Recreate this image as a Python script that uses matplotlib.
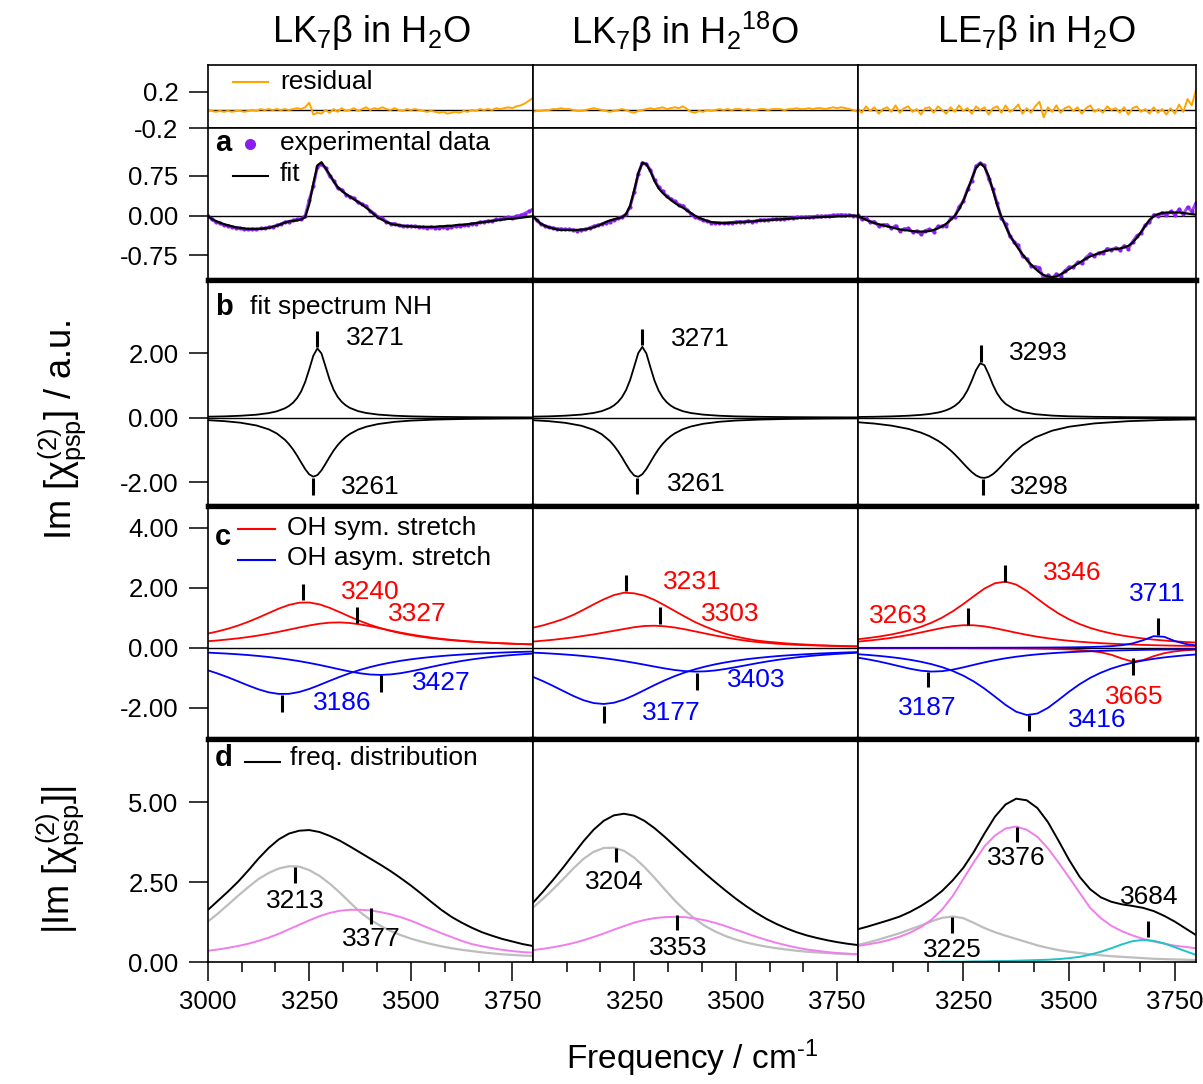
import numpy as np
import matplotlib
matplotlib.use("Agg")
from matplotlib import pyplot as plt
from matplotlib.lines import Line2D

plt.rcParams['font.family'] = ['Liberation Sans', 'DejaVu Sans']
plt.rcParams['mathtext.fontset'] = 'custom'
plt.rcParams['mathtext.rm'] = 'Liberation Sans'
plt.rcParams['mathtext.it'] = 'Liberation Sans'
plt.rcParams['mathtext.bf'] = 'Liberation Sans:bold'


# !Column titles
titles = [r'LK$_7$β in H$_2$O', r'LK$_7$β in H$_2$$^{18}$O', r'LE$_7$β in H$_2$O']

# !Frequency grids (cm-1) the curves were read on
freq_a = np.arange(3000, 3801, 10)
freq_b = [3000, 3040, 3080, 3120, 3150, 3170, 3190, 3200, 3210, 3220, 3230, 3240,
          3250, 3260, 3270, 3280, 3290, 3300, 3310, 3320, 3330, 3340, 3350, 3370,
          3390, 3420, 3460, 3500, 3560, 3640, 3720, 3800]
freq_cd = np.arange(3000, 3801, 25)


# !Residuals (top strip)
resid_lk = [0.00, -0.01, -0.02, -0.01, -0.02, -0.01, -0.02, -0.01, -0.01, -0.02,
            -0.01, 0.00, -0.01, 0.01, 0.00, 0.01, 0.00, 0.01, 0.00, 0.01,
            0.00, 0.01, 0.02, 0.01, 0.03, 0.08, -0.05, -0.03, -0.04, 0.00,
            -0.03, 0.01, -0.02, 0.02, -0.01, 0.00, 0.02, -0.01, 0.01, 0.03,
            0.00, 0.02, 0.01, 0.03, 0.01, 0.00, 0.02, 0.00, -0.01, 0.01,
            0.00, 0.01, 0.00, -0.01, -0.02, -0.01, -0.02, -0.03, -0.02, -0.04,
            -0.03, -0.02, -0.03, -0.01, -0.02, 0.00, -0.01, 0.01, 0.00, 0.01,
            0.00, 0.02, 0.01, 0.02, 0.03, 0.02, 0.04, 0.05, 0.07, 0.10,
            0.13]
resid_lk18 = [-0.02, -0.01, -0.01, 0.00, 0.00, 0.01, 0.01, 0.02, 0.01, 0.01,
              0.00, -0.01, -0.01, 0.00, 0.01, 0.02, 0.01, 0.00, -0.01, -0.02,
              -0.01, 0.00, 0.01, 0.00, -0.02, -0.03, -0.01, 0.00, 0.01, 0.02,
              0.01, 0.02, 0.03, 0.01, 0.02, 0.03, 0.02, 0.04, 0.01, -0.02,
              -0.03, -0.01, -0.02, 0.00, -0.01, 0.00, 0.01, 0.00, 0.01, 0.00,
              0.01, 0.01, 0.00, 0.01, 0.00, 0.00, 0.01, 0.01, 0.00, 0.01,
              0.01, 0.01, 0.00, 0.01, 0.01, 0.02, 0.01, 0.01, 0.02, 0.01,
              0.02, 0.02, 0.01, 0.02, 0.03, 0.02, 0.03, 0.02, 0.01, 0.00,
              -0.02]
resid_le = [0.02, -0.03, 0.04, -0.01, 0.03, -0.04, 0.01, 0.03, -0.02, 0.05,
            -0.03, 0.02, 0.04, -0.02, 0.01, -0.05, 0.02, 0.03, -0.03, 0.04,
            0.00, -0.04, 0.03, -0.02, 0.05, -0.01, 0.02, -0.04, 0.04, 0.00,
            0.03, -0.05, 0.02, 0.04, -0.03, 0.05, -0.02, 0.01, 0.06, -0.04,
            0.02, -0.03, 0.04, 0.09, -0.08, 0.03, -0.02, 0.05, -0.03, 0.02,
            0.04, -0.01, 0.03, -0.04, 0.02, 0.05, -0.02, 0.01, -0.03, 0.04,
            0.00, 0.02, -0.03, 0.03, -0.05, 0.02, 0.04, -0.02, 0.01, -0.04,
            0.03, -0.03, 0.01, -0.05, 0.02, -0.04, 0.06, -0.02, 0.12, 0.05,
            0.22]

# !Panel a: fit (experimental data = fit + residual)
fit_lk = [0.00, -0.06, -0.10, -0.13, -0.16, -0.18, -0.20, -0.22, -0.23, -0.24,
          -0.25, -0.25, -0.25, -0.25, -0.24, -0.23, -0.21, -0.19, -0.16, -0.13,
          -0.11, -0.10, -0.09, -0.07, -0.03, 0.22, 0.61, 0.95, 1.01, 0.90,
          0.78, 0.65, 0.54, 0.47, 0.41, 0.36, 0.31, 0.26, 0.21, 0.15,
          0.09, 0.02, -0.04, -0.08, -0.12, -0.15, -0.17, -0.18, -0.19, -0.20,
          -0.20, -0.21, -0.21, -0.21, -0.21, -0.21, -0.21, -0.20, -0.20, -0.19,
          -0.19, -0.18, -0.17, -0.17, -0.16, -0.15, -0.14, -0.13, -0.12, -0.11,
          -0.10, -0.09, -0.08, -0.07, -0.06, -0.06, -0.05, -0.04, -0.03, -0.02,
          -0.01]
fit_lk18 = [0.00, -0.08, -0.15, -0.19, -0.22, -0.24, -0.26, -0.27, -0.27, -0.27,
            -0.27, -0.27, -0.26, -0.26, -0.24, -0.22, -0.19, -0.16, -0.12, -0.09,
            -0.07, -0.05, -0.03, 0.03, 0.19, 0.48, 0.80, 1.00, 0.97, 0.84,
            0.66, 0.52, 0.43, 0.36, 0.30, 0.24, 0.19, 0.15, 0.10, 0.05,
            0.00, -0.04, -0.07, -0.10, -0.12, -0.13, -0.14, -0.14, -0.14, -0.13,
            -0.13, -0.12, -0.12, -0.11, -0.11, -0.10, -0.09, -0.09, -0.08, -0.08,
            -0.07, -0.07, -0.06, -0.06, -0.05, -0.05, -0.04, -0.04, -0.04, -0.03,
            -0.03, -0.03, -0.02, -0.02, -0.02, -0.01, -0.01, -0.01, 0.00, 0.00,
            0.00]
fit_le = [0.00, -0.04, -0.08, -0.11, -0.14, -0.16, -0.18, -0.20, -0.22, -0.24,
          -0.26, -0.27, -0.28, -0.29, -0.30, -0.30, -0.30, -0.29, -0.27, -0.24,
          -0.20, -0.15, -0.08, 0.00, 0.12, 0.28, 0.48, 0.70, 0.90, 0.99,
          0.92, 0.75, 0.48, 0.20, -0.02, -0.20, -0.37, -0.50, -0.62, -0.73,
          -0.83, -0.92, -1.00, -1.07, -1.12, -1.15, -1.16, -1.15, -1.11, -1.06,
          -1.01, -0.96, -0.91, -0.86, -0.81, -0.77, -0.74, -0.71, -0.68, -0.66,
          -0.64, -0.63, -0.62, -0.60, -0.57, -0.51, -0.42, -0.31, -0.19, -0.08,
          -0.01, 0.03, 0.05, 0.06, 0.06, 0.06, 0.06, 0.05, 0.04, 0.03,
          0.02]

# !Panel b: NH fit spectrum (positive / negative band)
nh_pos_lk = [0.030, 0.040, 0.059, 0.092, 0.141, 0.196, 0.290, 0.363, 0.464, 0.607, 0.814, 1.109,
             1.502, 1.923, 2.148, 1.993, 1.589, 1.181, 0.865, 0.643, 0.489, 0.381, 0.303, 0.203,
             0.145, 0.095, 0.060, 0.041, 0.026, 0.016, 0.011, 0.008]
nh_neg_lk = [-0.078, -0.107, -0.155, -0.242, -0.361, -0.489, -0.686, -0.821, -0.984, -1.176, -1.389, -1.597,
             -1.760, -1.830, -1.782, -1.635, -1.432, -1.218, -1.020, -0.851, -0.711, -0.597, -0.506, -0.371,
             -0.282, -0.196, -0.130, -0.092, -0.060, -0.038, -0.026, -0.019]
nh_pos_lk18 = [0.031, 0.041, 0.061, 0.095, 0.146, 0.203, 0.302, 0.378, 0.485, 0.637, 0.857, 1.170,
               1.585, 2.003, 2.196, 1.990, 1.560, 1.150, 0.843, 0.628, 0.479, 0.374, 0.298, 0.200,
               0.143, 0.094, 0.059, 0.040, 0.026, 0.016, 0.011, 0.008]
nh_neg_lk18 = [-0.079, -0.109, -0.160, -0.251, -0.377, -0.513, -0.724, -0.866, -1.036, -1.232, -1.446, -1.646,
               -1.795, -1.835, -1.755, -1.590, -1.380, -1.168, -0.976, -0.814, -0.681, -0.573, -0.487, -0.358,
               -0.273, -0.190, -0.127, -0.090, -0.059, -0.037, -0.026, -0.019]
nh_pos_le = [0.021, 0.028, 0.040, 0.060, 0.086, 0.114, 0.158, 0.190, 0.232, 0.289, 0.366, 0.475,
             0.630, 0.850, 1.144, 1.472, 1.686, 1.627, 1.344, 1.019, 0.753, 0.561, 0.427, 0.264,
             0.176, 0.108, 0.064, 0.042, 0.026, 0.015, 0.010, 0.007]
nh_neg_le = [-0.141, -0.183, -0.247, -0.347, -0.464, -0.572, -0.715, -0.803, -0.903, -1.015, -1.140, -1.276,
             -1.418, -1.558, -1.686, -1.789, -1.853, -1.869, -1.833, -1.753, -1.638, -1.503, -1.361, -1.088,
             -0.861, -0.611, -0.404, -0.281, -0.178, -0.109, -0.073, -0.052]

# !Panel c: OH stretch components
sym_lk_3240 = [0.476, 0.551, 0.640, 0.746, 0.870, 1.011, 1.161, 1.309, 1.433, 1.507, 1.514,
               1.452, 1.337, 1.192, 1.040, 0.897, 0.769, 0.660, 0.567, 0.490, 0.425, 0.371,
               0.326, 0.288, 0.256, 0.229, 0.205, 0.185, 0.168, 0.153, 0.139, 0.128, 0.117]
sym_lk_3327 = [0.222, 0.249, 0.282, 0.319, 0.363, 0.414, 0.472, 0.537, 0.608, 0.680, 0.748,
               0.805, 0.841, 0.850, 0.829, 0.784, 0.722, 0.651, 0.579, 0.510, 0.448, 0.393,
               0.345, 0.303, 0.268, 0.238, 0.212, 0.189, 0.170, 0.153, 0.139, 0.126, 0.115]
asym_lk_3186 = [-0.745, -0.856, -0.980, -1.116, -1.254, -1.381, -1.481, -1.534, -1.531, -1.471, -1.368,
                -1.238, -1.099, -0.965, -0.842, -0.732, -0.638, -0.557, -0.489, -0.430, -0.381, -0.339,
                -0.303, -0.272, -0.245, -0.222, -0.201, -0.184, -0.168, -0.155, -0.142, -0.132, -0.122]
asym_lk_3427 = [-0.157, -0.174, -0.192, -0.214, -0.239, -0.269, -0.303, -0.342, -0.388, -0.441, -0.501,
                -0.568, -0.641, -0.716, -0.787, -0.847, -0.887, -0.900, -0.884, -0.843, -0.781, -0.710,
                -0.635, -0.563, -0.496, -0.436, -0.384, -0.339, -0.300, -0.266, -0.237, -0.212, -0.191]
sym_lk18_3231 = [0.67, 0.75, 0.85, 0.96, 1.10, 1.27, 1.45, 1.62, 1.76, 1.84, 1.82,
                 1.74, 1.60, 1.42, 1.23, 1.04, 0.86, 0.71, 0.58, 0.47, 0.38, 0.31,
                 0.25, 0.21, 0.18, 0.15, 0.13, 0.11, 0.09, 0.08, 0.07, 0.06, 0.05]
sym_lk18_3303 = [0.21, 0.24, 0.27, 0.31, 0.35, 0.40, 0.45, 0.51, 0.57, 0.63, 0.69,
                 0.73, 0.74, 0.72, 0.68, 0.62, 0.55, 0.48, 0.41, 0.35, 0.29, 0.24,
                 0.20, 0.17, 0.14, 0.12, 0.10, 0.09, 0.08, 0.07, 0.06, 0.05, 0.05]
asym_lk18_3177 = [-0.961, -1.106, -1.266, -1.435, -1.601, -1.743, -1.839, -1.870, -1.828, -1.723, -1.575,
                  -1.408, -1.239, -1.082, -0.940, -0.817, -0.712, -0.622, -0.546, -0.482, -0.427, -0.381,
                  -0.341, -0.307, -0.277, -0.251, -0.229, -0.209, -0.191, -0.176, -0.162, -0.150, -0.139]
asym_lk18_3403 = [-0.157, -0.173, -0.193, -0.215, -0.240, -0.270, -0.304, -0.344, -0.389, -0.441, -0.498,
                  -0.559, -0.623, -0.684, -0.737, -0.774, -0.790, -0.781, -0.751, -0.702, -0.643, -0.580,
                  -0.517, -0.458, -0.405, -0.358, -0.316, -0.280, -0.249, -0.223, -0.199, -0.179, -0.162]
sym_le_3346 = [0.288, 0.328, 0.376, 0.434, 0.506, 0.594, 0.704, 0.841, 1.011, 1.218, 1.461,
               1.725, 1.977, 2.156, 2.208, 2.111, 1.902, 1.640, 1.380, 1.147, 0.952, 0.794,
               0.666, 0.564, 0.481, 0.414, 0.360, 0.314, 0.277, 0.246, 0.219, 0.196, 0.177]
sym_le_3263 = [0.209, 0.241, 0.280, 0.325, 0.380, 0.443, 0.515, 0.591, 0.664, 0.724, 0.756,
               0.754, 0.718, 0.656, 0.582, 0.506, 0.436, 0.373, 0.320, 0.275, 0.237, 0.206,
               0.180, 0.158, 0.140, 0.124, 0.111, 0.100, 0.090, 0.082, 0.074, 0.068, 0.062]
sym_le_3665 = [-0.003, -0.003, -0.004, -0.004, -0.004, -0.005, -0.005, -0.006, -0.007, -0.007, -0.008,
               -0.009, -0.011, -0.012, -0.014, -0.017, -0.020, -0.025, -0.031, -0.039, -0.051, -0.070,
               -0.099, -0.147, -0.230, -0.354, -0.456, -0.406, -0.276, -0.176, -0.116, -0.080, -0.058]
asym_le_3711 = [0.002, 0.002, 0.002, 0.002, 0.002, 0.002, 0.003, 0.003, 0.003, 0.004, 0.004,
                0.004, 0.005, 0.006, 0.006, 0.007, 0.009, 0.010, 0.012, 0.015, 0.018, 0.023,
                0.030, 0.041, 0.059, 0.090, 0.148, 0.255, 0.391, 0.369, 0.229, 0.133, 0.082]
asym_le_3187 = [-0.324, -0.382, -0.451, -0.530, -0.615, -0.697, -0.760, -0.789, -0.776, -0.725, -0.649,
                -0.564, -0.482, -0.408, -0.346, -0.294, -0.251, -0.215, -0.186, -0.162, -0.142, -0.126,
                -0.112, -0.100, -0.089, -0.081, -0.073, -0.066, -0.061, -0.056, -0.051, -0.047, -0.044]
asym_le_3416 = [-0.209, -0.235, -0.265, -0.301, -0.344, -0.397, -0.462, -0.542, -0.642, -0.768, -0.925,
                -1.120, -1.356, -1.625, -1.900, -2.127, -2.237, -2.188, -2.000, -1.736, -1.460, -1.210,
                -0.998, -0.827, -0.689, -0.580, -0.492, -0.422, -0.364, -0.317, -0.279, -0.246, -0.219]

# !Panel d: frequency distributions (total, low / high component, free OH)
dist_lk_total = [1.63, 1.92, 2.21, 2.52, 2.87, 3.24, 3.57, 3.84, 4.02, 4.11, 4.13,
                 4.07, 3.95, 3.80, 3.62, 3.43, 3.24, 3.05, 2.85, 2.63, 2.40, 2.15,
                 1.89, 1.64, 1.42, 1.24, 1.08, 0.94, 0.83, 0.73, 0.65, 0.57, 0.51]
dist_lk_low = [1.27, 1.52, 1.80, 2.08, 2.35, 2.60, 2.79, 2.93, 3.00, 2.99, 2.88,
               2.70, 2.46, 2.18, 1.87, 1.57, 1.33, 1.14, 0.98, 0.85, 0.74, 0.65,
               0.57, 0.50, 0.44, 0.39, 0.35, 0.31, 0.28, 0.25, 0.23, 0.21, 0.20]
dist_lk_high = [0.36, 0.40, 0.45, 0.51, 0.58, 0.67, 0.77, 0.89, 1.03, 1.17, 1.31,
                1.44, 1.54, 1.61, 1.64, 1.64, 1.62, 1.57, 1.50, 1.41, 1.30, 1.17,
                1.04, 0.91, 0.79, 0.67, 0.57, 0.50, 0.44, 0.39, 0.35, 0.32, 0.30]
dist_lk18_total = [1.85, 2.20, 2.57, 2.96, 3.37, 3.78, 4.14, 4.42, 4.59, 4.64, 4.58,
                   4.42, 4.19, 3.92, 3.63, 3.34, 3.05, 2.77, 2.50, 2.24, 1.99, 1.76,
                   1.55, 1.36, 1.20, 1.06, 0.94, 0.84, 0.76, 0.69, 0.63, 0.58, 0.54]
dist_lk18_low = [1.70, 1.98, 2.28, 2.60, 2.93, 3.23, 3.45, 3.57, 3.58, 3.48, 3.27,
                 2.98, 2.64, 2.28, 1.93, 1.62, 1.35, 1.13, 0.96, 0.82, 0.71, 0.62,
                 0.55, 0.49, 0.44, 0.40, 0.36, 0.33, 0.31, 0.29, 0.27, 0.26, 0.25]
dist_lk18_high = [0.38, 0.42, 0.47, 0.53, 0.60, 0.69, 0.79, 0.90, 1.02, 1.13, 1.24,
                  1.32, 1.38, 1.41, 1.42, 1.41, 1.37, 1.31, 1.23, 1.13, 1.02, 0.91,
                  0.80, 0.70, 0.61, 0.53, 0.46, 0.40, 0.36, 0.32, 0.29, 0.27, 0.25]
dist_le_total = [1.03, 1.12, 1.22, 1.32, 1.43, 1.58, 1.76, 1.97, 2.23, 2.56, 2.95,
                 3.45, 4.02, 4.55, 4.93, 5.11, 5.06, 4.82, 4.38, 3.80, 3.20, 2.67,
                 2.28, 2.03, 1.89, 1.81, 1.76, 1.70, 1.60, 1.45, 1.27, 1.06, 0.85]
dist_le_low = [0.54, 0.62, 0.71, 0.81, 0.91, 1.03, 1.15, 1.28, 1.39, 1.43, 1.38,
               1.23, 1.07, 0.94, 0.83, 0.73, 0.63, 0.53, 0.45, 0.38, 0.33, 0.29,
               0.25, 0.22, 0.19, 0.17, 0.15, 0.13, 0.11, 0.10, 0.09, 0.08, 0.07]
dist_le_high = [0.51, 0.56, 0.62, 0.70, 0.80, 0.93, 1.10, 1.33, 1.65, 2.07, 2.60,
                3.13, 3.62, 3.96, 4.18, 4.24, 4.14, 3.92, 3.56, 3.12, 2.65, 2.17,
                1.70, 1.38, 1.14, 0.97, 0.84, 0.73, 0.65, 0.58, 0.52, 0.48, 0.44]
dist_le_free = [0.00, 0.00, 0.01, 0.01, 0.01, 0.01, 0.01, 0.01, 0.02, 0.02, 0.02,
                0.03, 0.03, 0.04, 0.04, 0.05, 0.06, 0.07, 0.08, 0.10, 0.13, 0.17,
                0.24, 0.33, 0.44, 0.56, 0.66, 0.70, 0.67, 0.59, 0.47, 0.35, 0.23]

# !Peak labels: (column, label, tick freq, tick y0, tick y1, text freq, text y, colour)
peaks_b = [(0, '3271', 3270, 2.19, 2.69, 3412, 2.46, 'k'),
           (0, '3261', 3259, -1.87, -2.40, 3401, -2.14, 'k'),
           (1, '3271', 3268, 2.24, 2.74, 3414, 2.44, 'k'),
           (1, '3261', 3256, -1.87, -2.38, 3404, -2.06, 'k'),
           (2, '3293', 3291, 1.72, 2.25, 3427, 2.00, 'k'),
           (2, '3298', 3296, -1.90, -2.40, 3429, -2.15, 'k')]
peaks_c = [(0, '3240', 3235, 1.60, 2.12, 3400, 1.87, 'r'),
           (0, '3327', 3368, 0.82, 1.35, 3515, 1.13, 'r'),
           (0, '3186', 3184, -1.57, -2.13, 3330, -1.83, 'b'),
           (0, '3427', 3427, -0.90, -1.46, 3575, -1.18, 'b'),
           (1, '3231', 3231, 1.90, 2.43, 3392, 2.21, 'r'),
           (1, '3303', 3313, 0.80, 1.35, 3486, 1.12, 'r'),
           (1, '3403', 3404, -0.85, -1.40, 3550, -1.07, 'b'),
           (1, '3177', 3176, -1.94, -2.49, 3341, -2.16, 'b'),
           (2, '3346', 3349, 2.21, 2.76, 3508, 2.51, 'r'),
           (2, '3263', 3262, 0.76, 1.32, 3096, 1.06, 'r'),
           (2, '3711', 3710, 0.43, 0.99, 3708, 1.80, 'b'),
           (2, '3665', 3652, -0.35, -0.90, 3653, -1.63, 'r'),
           (2, '3187', 3166, -0.79, -1.31, 3166, -2.01, 'b'),
           (2, '3416', 3406, -2.24, -2.76, 3566, -2.40, 'b')]
peaks_d = [(0, '3213', 3215, 2.49, 2.99, 3215, 1.93, 'k'),
           (0, '3377', 3402, 1.19, 1.69, 3402, 0.72, 'k'),
           (1, '3204', 3204, 3.14, 3.57, 3202, 2.51, 'k'),
           (1, '3353', 3356, 1.01, 1.48, 3359, 0.45, 'k'),
           (2, '3376', 3376, 3.77, 4.24, 3376, 3.25, 'k'),
           (2, '3684', 3686, 0.78, 1.30, 3689, 2.05, 'k'),
           (2, '3225', 3224, 0.91, 1.43, 3224, 0.38, 'k')]


# !Colours
ORANGE = '#FFA500'
PURPLE = '#8A1EF0'
RED = '#FF0000'
BLUE = '#0000FF'
GRAY = '#BDBDBD'
PINK = '#F07EEA'
CYAN = '#1EC3C8'

W, H = 1203.0, 1084.0


def fx(x):
    return x / W


def fy(y):
    return 1.0 - y / H


fig = plt.figure(figsize=(12.03, 10.84), dpi=100)

col_px = [(207.7, 532.7), (532.7, 857.5), (857.5, 1196.0)]
row_px = [(65.0, 128.3), (128.3, 280.0), (280.0, 506.0), (506.0, 738.5), (738.5, 962.3)]
ylims = [(-0.2, 0.492), (-1.215, 1.651), (-2.74, 4.27), (-3.02, 4.73), (0.0, 6.99)]
yticks = [[-0.2, 0.2], [-0.75, 0.0, 0.75], [-2.0, 0.0, 2.0], [-2.0, 0.0, 2.0, 4.0], [0.0, 2.5, 5.0]]
xmajor = [[3000, 3250, 3500, 3750], [3250, 3500, 3750], [3250, 3500, 3750]]
xminor = [3000 + 250.0 / 3 * k for k in range(10) if k % 3 != 0]

axes = [[None] * 3 for _ in range(5)]
for r, (top, bot) in enumerate(row_px):
    for c, (left, right) in enumerate(col_px):
        ax = fig.add_axes([fx(left), fy(bot), (right - left) / W, (bot - top) / H])
        ax.set_xlim(3000, 3800)
        ax.set_ylim(*ylims[r])
        for s in ax.spines.values():
            s.set_linewidth(1.2)
        if r in (1, 2, 3):
            ax.spines['bottom'].set_linewidth(3.8)
        if r in (2, 3, 4):
            ax.spines['top'].set_linewidth(3.8)
        ax.tick_params(axis='both', which='both', direction='out', labelsize=18.5)
        if c == 0:
            ax.set_yticks(yticks[r])
            if r == 0:
                ax.set_yticklabels(['%.1f' % v for v in yticks[r]])
            else:
                ax.set_yticklabels(['%.2f' % v for v in yticks[r]])
            ax.tick_params(axis='y', length=14, width=1.1, pad=7)
        else:
            ax.set_yticks([])
        if r == 4:
            ax.set_xticks(xmajor[c])
            ax.set_xticklabels(['%d' % v for v in xmajor[c]])
            ax.set_xticks(xminor, minor=True)
            ax.tick_params(axis='x', which='major', length=14, width=1.1, pad=6)
            ax.tick_params(axis='x', which='minor', length=7, width=1.1)
        else:
            ax.set_xticks([])
        axes[r][c] = ax

resid = [resid_lk, resid_lk18, resid_le]
fit_a = [fit_lk, fit_lk18, fit_le]
nh_pos = [nh_pos_lk, nh_pos_lk18, nh_pos_le]
nh_neg = [nh_neg_lk, nh_neg_lk18, nh_neg_le]
oh_sym = [[sym_lk_3240, sym_lk_3327], [sym_lk18_3231, sym_lk18_3303],
          [sym_le_3346, sym_le_3263, sym_le_3665]]
oh_asym = [[asym_lk_3186, asym_lk_3427], [asym_lk18_3177, asym_lk18_3403],
           [asym_le_3711, asym_le_3187, asym_le_3416]]
dist_total = [dist_lk_total, dist_lk18_total, dist_le_total]
dist_low = [dist_lk_low, dist_lk18_low, dist_le_low]
dist_high = [dist_lk_high, dist_lk18_high, dist_le_high]

for c in range(3):
    # residual strip
    ax = axes[0][c]
    ax.axhline(0, color='k', lw=1.0)
    ax.plot(freq_a, resid[c], color=ORANGE, lw=1.4)

    # a: data + fit
    ax = axes[1][c]
    ax.axhline(0, color='k', lw=1.0)
    exp_data = np.array(fit_a[c]) + np.array(resid[c])
    ax.plot(freq_a, exp_data, color=PURPLE, lw=2.2, alpha=0.8)
    ax.plot(freq_a, exp_data, 'o', color=PURPLE, ms=3.0, mew=0)
    ax.plot(freq_a, fit_a[c], color='k', lw=1.6)

    # b: NH
    ax = axes[2][c]
    ax.axhline(0, color='k', lw=1.0)
    ax.plot(freq_b, nh_pos[c], color='k', lw=1.3)
    ax.plot(freq_b, nh_neg[c], color='k', lw=1.3)

    # c: OH stretches
    ax = axes[3][c]
    ax.axhline(0, color='k', lw=1.0)
    for y in oh_sym[c]:
        ax.plot(freq_cd, y, color=RED, lw=1.3)
    for y in oh_asym[c]:
        ax.plot(freq_cd, y, color=BLUE, lw=1.3)

    # d: distributions
    ax = axes[4][c]
    ax.plot(freq_cd, dist_low[c], color=GRAY, lw=1.6)
    ax.plot(freq_cd, dist_high[c], color=PINK, lw=1.4)
    if c == 2:
        ax.plot(freq_cd, dist_le_free, color=CYAN, lw=1.4)
    ax.plot(freq_cd, dist_total[c], color='k', lw=1.4)

for row, peaks in ((2, peaks_b), (3, peaks_c), (4, peaks_d)):
    for c, lab, tx, y0, y1, lx, ly, col in peaks:
        ax = axes[row][c]
        ax.plot([tx, tx], [y0, y1], color='k', lw=2.2, solid_capstyle='butt')
        ax.text(lx, ly, lab, color=col, fontsize=19, ha='center', va='center')

# !In-panel legends (first column)
fig.add_artist(Line2D([fx(233), fx(268)], [fy(82.3)] * 2, color=ORANGE, lw=1.5))
fig.text(fx(280), fy(81.7), 'residual', fontsize=19, va='center')
fig.text(fx(215), fy(143.3), 'a', fontsize=21, fontweight='bold', va='center')
fig.add_artist(Line2D([fx(250)], [fy(144)], marker='o', ms=8, mew=0, color=PURPLE))
fig.text(fx(280), fy(143.3), 'experimental data', fontsize=19, va='center')
fig.add_artist(Line2D([fx(233), fx(268)], [fy(175.7)] * 2, color='k', lw=1.5))
fig.text(fx(280), fy(174), 'fit', fontsize=19, va='center')
fig.text(fx(215), fy(306.7), 'b', fontsize=21, fontweight='bold', va='center')
fig.text(fx(250), fy(306.7), 'fit spectrum NH', fontsize=19, va='center')
fig.text(fx(215), fy(536.7), 'c', fontsize=21, fontweight='bold', va='center')
fig.add_artist(Line2D([fx(238), fx(275)], [fy(529)] * 2, color=RED, lw=1.5))
fig.text(fx(287), fy(528.3), 'OH sym. stretch', fontsize=19, va='center')
fig.add_artist(Line2D([fx(238), fx(275)], [fy(560)] * 2, color=BLUE, lw=1.5))
fig.text(fx(287), fy(558.3), 'OH asym. stretch', fontsize=19, va='center')
fig.text(fx(215), fy(758), 'd', fontsize=21, fontweight='bold', va='center')
fig.add_artist(Line2D([fx(245), fx(280)], [fy(762.3)] * 2, color='k', lw=1.5))
fig.text(fx(290), fy(758), 'freq. distribution', fontsize=19, va='center')

# !Titles and axis labels
for x, t in zip([371, 685, 1036], titles):
    fig.text(fx(x), fy(32), t, fontsize=26, ha='center', va='center')
fig.text(fx(62), fy(430), r'Im [$\chi^{(2)}_{psp}$] / a.u.', fontsize=26,
         rotation=90, ha='center', va='center')
fig.text(fx(60), fy(860), r'|Im [$\chi^{(2)}_{psp}$]|', fontsize=26,
         rotation=90, ha='center', va='center')
fig.text(fx(692), fy(1058), r'Frequency / cm$^{\text{-}1}$', fontsize=24, ha='center', va='center')

fig.savefig('out.png', dpi=100)
